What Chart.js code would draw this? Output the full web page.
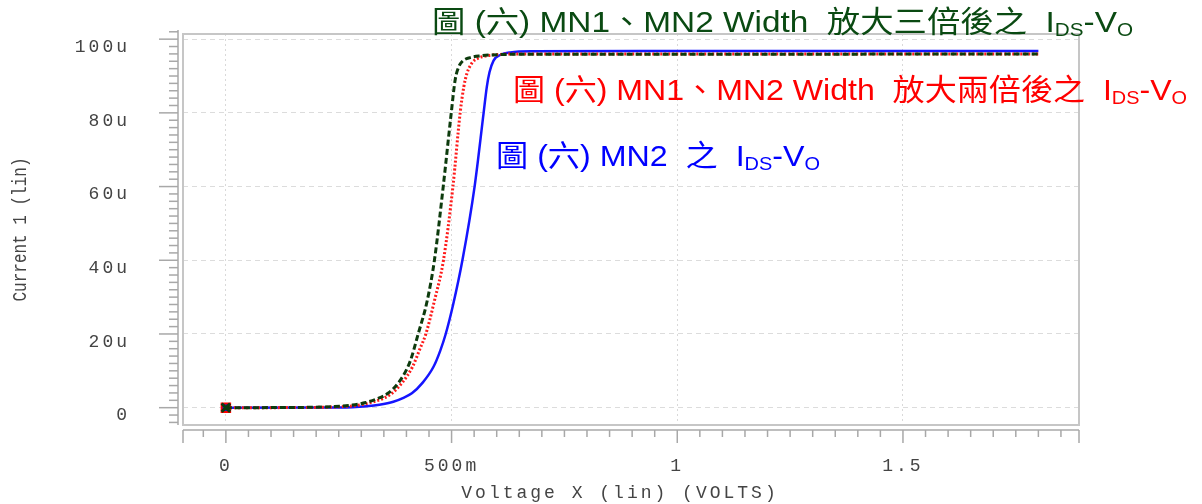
<!DOCTYPE html>
<html>
<head>
<meta charset="utf-8">
<script src="https://cdn.jsdelivr.net/npm/chart.js@4/dist/chart.umd.min.js"></script>
<style>
  html, body { margin: 0; padding: 0; background: #ffffff; }
  #wrap { width: 1202px; height: 504px; }
</style>
</head>
<body>
<div id="wrap"><canvas id="c" width="1202" height="504"></canvas></div>
<script>
// ---------------- data ----------------
const xTickValues = [0, 0.5, 1, 1.5];
const xTickText   = ['0', '500m', '1', '1.5'];
const yTickValues = [0, 20, 40, 60, 80, 100];
const yTickText   = ['0', '20u', '40u', '60u', '80u', '100u'];

const xTitle = 'Voltage X (lin) (VOLTS)';
const yTitle = 'Current 1 (lin)';

// MN1, MN2 width x3 (dark green dashed)
const vGreen = [0, 0.15, 0.24, 0.28, 0.31, 0.335, 0.36, 0.385, 0.408, 0.426, 0.446, 0.462, 0.4815, 0.4993, 0.508, 0.516, 0.524, 0.541, 0.566, 0.586, 0.65, 1.0, 1.8];
const iGreen = [0, 0.05, 0.3, 0.7, 1.4, 2.4, 4.0, 7.2, 12.5, 20, 29, 40, 60, 80, 89, 92.5, 94, 95, 95.5, 95.7, 95.9, 95.9, 96.0];
// MN1, MN2 width x2 (red dotted)
const vRed = [0, 0.15, 0.25, 0.29, 0.327, 0.35, 0.368, 0.392, 0.4135, 0.43, 0.443, 0.462, 0.482, 0.503, 0.519, 0.527, 0.534, 0.545, 0.558, 0.575, 0.6, 0.65, 1.8];
const iRed = [0, 0.03, 0.25, 0.6, 1.6, 2.6, 3.9, 7.0, 11.1, 16, 20, 29, 40, 60, 80, 87, 90.7, 93.5, 94.8, 95.4, 95.8, 96.0, 96.0];
// MN2 original (blue solid)
const vBlue = [0, 0.2, 0.28, 0.312, 0.34, 0.371, 0.392, 0.412, 0.436, 0.46, 0.475, 0.487, 0.5035, 0.524, 0.551, 0.571, 0.578, 0.584, 0.593, 0.608, 0.63, 0.68, 1.0, 1.8];
const iBlue = [0, 0.02, 0.15, 0.4, 0.8, 1.6, 2.6, 3.9, 6.8, 11.1, 15.5, 20, 28, 40, 60, 80, 87, 91, 94.2, 95.7, 96.4, 96.7, 96.8, 96.8];

// annotation texts: [text, isSubscript]
const noteGreen = [['圖 (六) MN1、MN2 Width  放大三倍後之  I', false], ['DS', true], ['-V', false], ['O', true]];
const noteRed   = [['圖 (六) MN1、MN2 Width  放大兩倍後之  I', false], ['DS', true], ['-V', false], ['O', true]];
const noteBlue  = [['圖 (六) MN2  之  I', false], ['DS', true], ['-V', false], ['O', true]];

const xMinorStep = 0.05;
const yMinorStep = 2;

// ---------------- helpers ----------------
const pts = (vs, is) => vs.map((v, i) => ({ x: v, y: is[i] }));
const MONO = '"Liberation Mono", "DejaVu Sans Mono", monospace';
const SANS = '"Liberation Sans", "Noto Sans CJK TC", sans-serif';
const TXT = '#444444';

const spacingPlugin = {
  id: 'spacing',
  beforeLayout(chart) { chart.ctx.letterSpacing = '3px'; },
  beforeDraw(chart) { chart.ctx.letterSpacing = '3px'; }
};

const axesPlugin = {
  id: 'axesDeco',
  beforeDatasetsDraw(chart) {
    const { ctx, chartArea: a, scales: { x, y } } = chart;
    ctx.save();
    ctx.letterSpacing = '0px';
    ctx.setLineDash([]);
    // plot frame
    ctx.strokeStyle = '#c6c6c6';
    ctx.lineWidth = 2;
    ctx.strokeRect(a.left, a.top, a.right - a.left, a.bottom - a.top);
    // y axis (offset left)
    ctx.strokeStyle = '#a8a8a8';
    ctx.lineWidth = 1.5;
    const ax = a.left - 5;
    ctx.beginPath(); ctx.moveTo(ax, a.top - 4); ctx.lineTo(ax, a.bottom); ctx.stroke();
    for (let k = Math.ceil(y.min / yMinorStep); k * yMinorStep <= y.max + 1; k++) {
      const v = k * yMinorStep;
      const py = y.getPixelForValue(v);
      if (py > a.bottom) continue;
      const major = yTickValues.some(t => Math.abs(t - v) < 1e-9);
      ctx.beginPath(); ctx.moveTo(ax - (major ? 19 : 9), py); ctx.lineTo(ax, py); ctx.stroke();
    }
    // x axis (offset below)
    const ay = a.bottom + 5;
    ctx.beginPath(); ctx.moveTo(a.left, ay); ctx.lineTo(a.right, ay); ctx.stroke();
    for (let k = Math.ceil(x.min / xMinorStep); k * xMinorStep <= x.max; k++) {
      const v = k * xMinorStep;
      const px = x.getPixelForValue(v);
      if (px < a.left || px > a.right) continue;
      const major = xTickValues.some(t => Math.abs(t - v) < 1e-9);
      ctx.beginPath(); ctx.moveTo(px, ay); ctx.lineTo(px, ay + (major ? 13 : 7)); ctx.stroke();
    }
    [a.left, a.right].forEach(px => {
      ctx.beginPath(); ctx.moveTo(px, ay); ctx.lineTo(px, ay + 13); ctx.stroke();
    });
    ctx.restore();
  },
  afterDraw(chart) {
    const { ctx, chartArea: a } = chart;
    ctx.save();
    ctx.fillStyle = TXT;
    // x title
    ctx.letterSpacing = '3px';
    ctx.font = '18px ' + MONO;
    ctx.textAlign = 'center';
    ctx.textBaseline = 'alphabetic';
    ctx.fillText(xTitle, 620, 498);
    // y title
    ctx.letterSpacing = '0px';
    ctx.font = '16px ' + MONO;
    ctx.translate(20, (a.top + a.bottom) / 2);
    ctx.rotate(-Math.PI / 2);
    ctx.scale(1, 1.3);
    ctx.textBaseline = 'middle';
    ctx.fillText(yTitle, 0, 0);
    ctx.restore();

    drawRich(ctx, noteGreen, 432, 32, 701, '#0a4a12', 30);
    drawRich(ctx, noteRed, 513, 100, 674, '#ff0000', 30);
    drawRich(ctx, noteBlue, 496, 166, 324, '#0000ff', 30);
  }
};

function drawRich(ctx, parts, left, baseline, targetW, color, size) {
  ctx.save();
  ctx.letterSpacing = '0px';
  ctx.textAlign = 'left';
  ctx.textBaseline = 'alphabetic';
  const widths = [];
  let total = 0;
  parts.forEach(([t, sub]) => {
    ctx.font = (sub ? size * 0.62 : size) + 'px ' + SANS;
    const w = ctx.measureText(t).width;
    widths.push(w); total += w;
  });
  ctx.translate(left, baseline);
  ctx.scale(targetW / total, 1);
  ctx.fillStyle = color;
  let cx = 0;
  parts.forEach(([t, sub], i) => {
    ctx.font = (sub ? size * 0.62 : size) + 'px ' + SANS;
    ctx.fillText(t, cx, sub ? size * 0.12 : 0);
    cx += widths[i];
  });
  ctx.restore();
}

const firstPointOnly = r => (ctx => ctx.dataIndex === 0 ? r : 0);
const noPad = s => { s.paddingTop = 0; s.paddingBottom = 0; s.paddingLeft = 0; s.paddingRight = 0; };

new Chart(document.getElementById('c'), {
  type: 'scatter',
  data: {
    datasets: [
      {
        label: 'x3', data: pts(vGreen, iGreen), showLine: true,
        borderColor: '#0d3b0d', borderWidth: 3, borderDash: [6, 3],
        cubicInterpolationMode: 'monotone',
        pointStyle: 'crossRot', pointRadius: firstPointOnly(6), pointBorderWidth: 3,
        pointBorderColor: '#0d3b0d', pointBackgroundColor: '#0d3b0d'
      },
      {
        label: 'x2', data: pts(vRed, iRed), showLine: true,
        borderColor: '#ff1a1a', borderWidth: 3, borderDash: [2, 2],
        cubicInterpolationMode: 'monotone',
        pointStyle: 'rect', pointRadius: firstPointOnly(6), pointBorderWidth: 2,
        pointBorderColor: '#ff0000', pointBackgroundColor: 'rgba(0,0,0,0)'
      },
      {
        label: 'x1', data: pts(vBlue, iBlue), showLine: true,
        borderColor: '#1515ff', borderWidth: 2.5,
        cubicInterpolationMode: 'monotone',
        pointStyle: 'rect', pointRadius: firstPointOnly(5), pointBorderWidth: 2,
        pointBorderColor: '#0000ff', pointBackgroundColor: '#2040c0'
      }
    ]
  },
  options: {
    responsive: false,
    animation: false,
    layout: { padding: { left: 4, top: 34, right: 123, bottom: 0 } },
    plugins: { legend: { display: false }, tooltip: { enabled: false }, title: { display: false } },
    scales: {
      x: {
        type: 'linear', position: 'bottom',
        min: -0.095, max: 1.89,
        afterBuildTicks: s => { s.ticks = xTickValues.map(v => ({ value: v })); },
        afterFit: s => { s.height = 79; noPad(s); },
        ticks: {
          autoSkip: false, maxRotation: 0, minRotation: 0, padding: 30,
          color: TXT, font: { family: MONO, size: 18 },
          callback: v => { const i = xTickValues.findIndex(t => Math.abs(t - v) < 1e-9); return i >= 0 ? xTickText[i] : ''; }
        },
        grid: { drawTicks: false, color: '#d9d9d9', lineWidth: 1 },
        border: { display: false, dash: [2, 3] }
      },
      y: {
        type: 'linear', position: 'left',
        min: -4.7, max: 101.4,
        afterBuildTicks: s => { s.ticks = yTickValues.map(v => ({ value: v })); },
        afterFit: s => { s.width = 179; noPad(s); },
        ticks: {
          autoSkip: false, padding: 53, labelOffset: 8,
          color: TXT, font: { family: MONO, size: 18 },
          callback: v => { const i = yTickValues.findIndex(t => Math.abs(t - v) < 1e-9); return i >= 0 ? yTickText[i] : ''; }
        },
        grid: { drawTicks: false, color: '#dcdcdc', lineWidth: 1 },
        border: { display: false, dash: [5, 4] }
      }
    }
  },
  plugins: [spacingPlugin, axesPlugin]
});
</script>
</body>
</html>
